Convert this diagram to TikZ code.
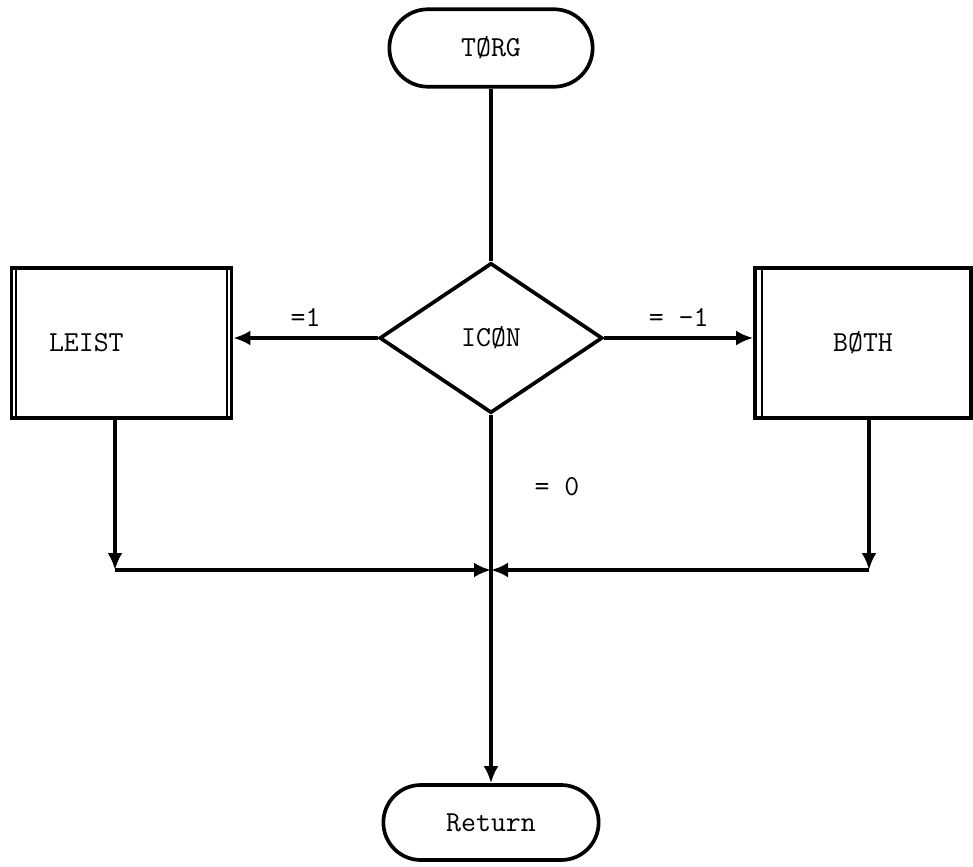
\documentclass[tikz,border=0pt]{standalone}
\usepackage{fontspec}
\usepackage{tikz}
\usetikzlibrary{shapes.geometric, shapes.misc, arrows.meta}

\begin{document}
\begin{tikzpicture}[font=\ttfamily\fontsize{16.5}{19}\selectfont]
%Declaration of styles
	\tikzstyle{term} = [rounded rectangle, draw=black, line width=2.1pt, minimum width=4.3cm, minimum height=1.55cm] %style for start and end
	\tikzstyle{test} = [diamond, draw=black, line width=2.1pt, minimum width=4.46cm, minimum height=3.0cm, inner sep=0pt] %style for the decision
	\tikzstyle{sub} = [rectangle, draw=black, line width=2.1pt, minimum width=4.4cm, minimum height=3.0cm] %style for the subroutine boxes
	\tikzstyle{arr} = [line width=2.1pt, -{Latex[length=3.4mm, width=3mm]}] %style for the arrows
	\useasboundingbox (0,0) rectangle (19.46,-17.32);
%Nodes, the elements of the graphic
	\node [term] (torg) at (9.82,-0.96) {TØRG};
	\node [test] (icon) at (9.82,-6.76) {ICØN};
	\node [sub, text width=2.9cm, align=left] (leist) at (2.43,-6.86) {LEIST};
	\node [sub, minimum width=4.32cm] (both) at (17.26,-6.86) {BØTH};
	\node [term, minimum width=4.54cm, minimum height=1.5cm] (ret) at (9.82,-16.45) {Return};
	\coordinate (lc) at (2.3,-11.4);
	\coordinate (rc) at (17.38,-11.4);
	\coordinate (jn) at (9.82,-11.4);
%Double sides of the subroutine boxes
	\draw [line width=1.1pt] ([xshift=0.13cm]leist.north west) -- ([xshift=0.13cm]leist.south west);
	\draw [line width=1.1pt] ([xshift=-0.13cm]leist.north east) -- ([xshift=-0.13cm]leist.south east);
	\draw [line width=1.1pt] ([xshift=0.17cm]both.north west) -- ([xshift=0.17cm]both.south west);
%Connectors
	\draw [line width=2.1pt] (torg.south) -- (icon.north);
	\draw [arr] (icon.west) -- (icon.west -| leist.east) node [midway, above=2pt] {=1};
	\draw [arr] (icon.east) -- (icon.east -| both.west) node [midway, above=2pt] {= -1};
	\draw [arr] (icon.south) -- (ret.north);
	\node at (11.14,-9.74) {= 0};
	\draw [arr] (leist.south -| lc) -- (lc);
	\draw [arr] (lc) -- (jn);
	\draw [arr] (both.south -| rc) -- (rc);
	\draw [arr] (rc) -- (jn);
\end{tikzpicture}
\end{document}
